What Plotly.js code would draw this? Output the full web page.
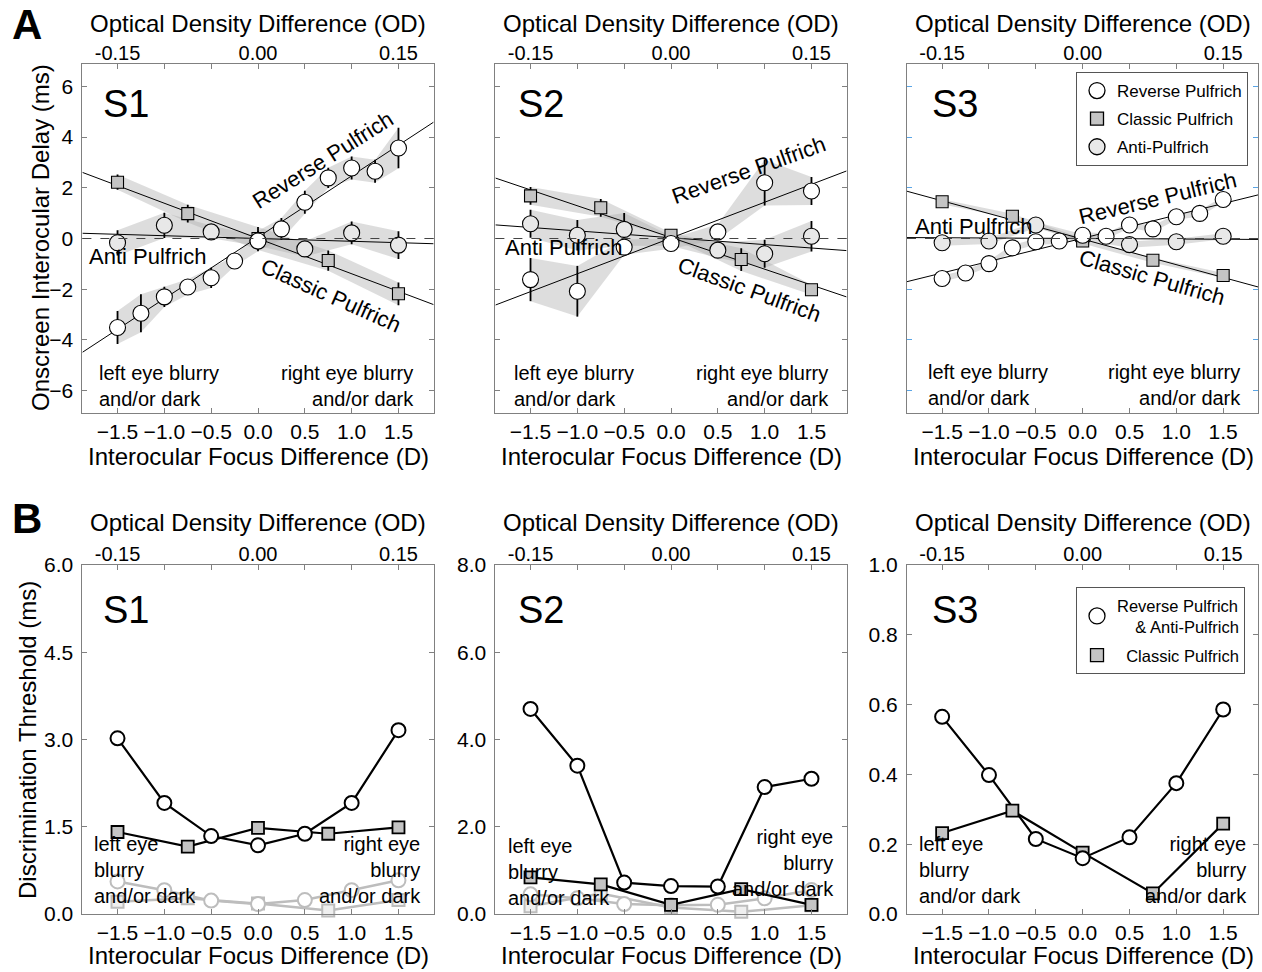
<!DOCTYPE html>
<html><head><meta charset="utf-8">
<script src="https://cdn.plot.ly/plotly-3.0.1.min.js"></script>
<style>html,body{margin:0;padding:0;background:#fff}#plot{width:1262px;height:972px}</style>
</head><body><div id="plot"></div>
<script>
// ---------------- DATA ----------------
// Tick labels
const focusTicks = [-1.5, -1, -0.5, 0, 0.5, 1, 1.5];
const focusLabels = ['\u22121.5', '\u22121.0', '\u22120.5', '0.0', '0.5', '1.0', '1.5'];
const odTicks = [-0.15, 0, 0.15];
const odLabels = ['-0.15', '0.00', '0.15'];
const delayTicks = [-6, -4, -2, 0, 2, 4, 6];
const delayLabels = ['\u22126', '\u22124', '\u22122', '0', '2', '4', '6'];
const thrTicksS1 = [0, 1.5, 3, 4.5, 6];
const thrLabelsS1 = ['0.0', '1.5', '3.0', '4.5', '6.0'];
const thrTicksS2 = [0, 2, 4, 6, 8];
const thrLabelsS2 = ['0.0', '2.0', '4.0', '6.0', '8.0'];
const thrTicksS3 = [0, 0.2, 0.4, 0.6, 0.8, 1.0];
const thrLabelsS3 = ['0.0', '0.2', '0.4', '0.6', '0.8', '1.0'];

// Panel A (onscreen interocular delay, ms)
const xQuarter = [-1.5, -1.25, -1, -0.75, -0.5, -0.25, 0, 0.25, 0.5, 0.75, 1, 1.25, 1.5];
const xHalf = [-1.5, -1, -0.5, 0, 0.5, 1, 1.5];
const xClassic = [-1.5, -0.75, 0, 0.75, 1.5];

const aS1RevY = [-3.51, -2.95, -2.30, -1.91, -1.55, -0.89, -0.10, 0.38, 1.43, 2.39, 2.78, 2.65, 3.57];
const aS1RevErr = [0.65, 0.75, 0.4, 0.3, 0.4, 0.2, 0.4, 0.43, 0.45, 0.4, 0.45, 0.45, 0.8];
const aS1ClaY = [2.22, 0.98, 0.0, -0.87, -2.18];
const aS1ClaErr = [0.3, 0.35, 0.45, 0.4, 0.45];
const aS1AntY = [-0.17, 0.52, 0.26, -0.1, -0.41, 0.22, -0.26];
const aS1AntErr = [0.5, 0.5, 0.25, 0.2, 0.3, 0.45, 0.55];
const aS1FitSlope = [2.42, -1.39, -0.11];      // reverse, classic, anti
const aS1FitIntercept = [0.05, 0.0, 0.0];

const aS2RevY = [-1.62, -2.08, -0.34, -0.2, 0.26, 2.2, 1.87];
const aS2RevErr = [0.85, 1.0, 0.3, 0.2, 0.3, 0.9, 0.55];
const aS2ClaY = [1.68, 1.21, 0.13, -0.83, -2.02];
const aS2ClaErr = [0.35, 0.35, 0.1, 0.45, 0.2];
const aS2AntY = [0.58, 0.13, 0.36, -0.1, -0.46, -0.6, 0.09];
const aS2AntErr = [0.55, 0.6, 0.65, 0.2, 0.3, 0.55, 0.6];
const aS2FitSlope = [1.41, -1.25, -0.27];
const aS2FitIntercept = [0.02, 0.04, 0.03];

const aS3RevY = [-1.58, -1.36, -0.99, -0.37, -0.13, -0.1, 0.13, 0.09, 0.53, 0.38, 0.86, 0.99, 1.54];
const aS3RevErr = [0.12, 0.12, 0.12, 0.12, 0.12, 0.12, 0.12, 0.12, 0.12, 0.12, 0.12, 0.12, 0.12];
const aS3ClaY = [1.45, 0.88, -0.1, -0.86, -1.46];
const aS3ClaErr = [0.1, 0.1, 0.1, 0.1, 0.1];
const aS3AntY = [-0.17, -0.1, 0.53, 0.05, -0.24, -0.13, 0.09];
const aS3AntErr = [0.12, 0.12, 0.12, 0.12, 0.12, 0.12, 0.12];
const aS3FitSlope = [0.913, -1.007, -0.02];
const aS3FitIntercept = [0.01, -0.025, 0.0];

// Panel B (discrimination threshold, ms)
const bS1CircY = [3.02, 1.91, 1.34, 1.18, 1.38, 1.91, 3.16];
const bS1SqY = [1.41, 1.16, 1.48, 1.38, 1.49];
const bS1CircGrayY = [0.56, 0.41, 0.23, 0.17, 0.24, 0.41, 0.58];
const bS1SqGrayY = [0.21, 0.27, 0.18, 0.06, 0.24];

const bS2CircY = [4.70, 3.40, 0.72, 0.64, 0.63, 2.91, 3.10];
const bS2SqY = [0.84, 0.68, 0.21, 0.57, 0.21];
const bS2CircGrayY = [0.45, 0.36, 0.23, 0.2, 0.21, 0.36, 0.55];
const bS2SqGrayY = [0.18, 0.47, 0.15, 0.05, 0.2];

const bS3CircY = [0.565, 0.398, 0.215, 0.16, 0.22, 0.375, 0.586];
const bS3SqY = [0.232, 0.296, 0.176, 0.059, 0.259];

// ---------------- LAYOUT HELPERS ----------------
const W = 1262, H = 972;
const px = x => x / W;
const py = y => 1 - y / H;
const FONT = 'Liberation Sans, Arial, Helvetica, sans-serif';
const AXC = '#808080';
const XR = [-1.875, 1.875];
const colX = [[82.4, 433.6], [495.4, 846.6], [907, 1258.3]];
const rowY = [[64, 413], [565, 914]];
const xid = k => k === 1 ? 'x' : 'x' + k;
const yid = k => k === 1 ? 'y' : 'y' + k;
const xname = k => k === 1 ? 'xaxis' : 'xaxis' + k;
const yname = k => k === 1 ? 'yaxis' : 'yaxis' + k;

const yCfg = [
  {range: [-6.88, 6.88], tv: delayTicks, tt: delayLabels, lab: true, tc: AXC},
  {range: [-6.88, 6.88], tv: delayTicks, tt: delayLabels, lab: false, tc: AXC},
  {range: [-6.88, 6.88], tv: delayTicks, tt: delayLabels, lab: false, tc: '#5aa5e6'},
  {range: [0, 6], tv: thrTicksS1, tt: thrLabelsS1, lab: true, tc: AXC},
  {range: [0, 8], tv: thrTicksS2, tt: thrLabelsS2, lab: true, tc: AXC},
  {range: [0, 1], tv: thrTicksS3, tt: thrLabelsS3, lab: true, tc: AXC}
];

const layout = {
  width: W, height: H,
  margin: {l: 0, r: 0, t: 0, b: 0},
  paper_bgcolor: '#fff', plot_bgcolor: 'rgba(0,0,0,0)',
  font: {family: FONT, color: '#000'},
  showlegend: true,
  shapes: [], annotations: []
};

const traces = [];
for (let r = 0; r < 2; r++) {
  for (let c = 0; c < 3; c++) {
    const k = r * 3 + c + 1;
    const xd = [px(colX[c][0]), px(colX[c][1])];
    const yd = [py(rowY[r][1]), py(rowY[r][0])];
    const yc = yCfg[k - 1];
    // bottom focus axis; its mirrored ticks on top coincide with the 0.05 OD steps
    layout[xname(k)] = {
      domain: xd, anchor: yid(k), range: XR, tickmode: 'array',
      tickvals: focusTicks, ticktext: focusLabels, ticks: 'inside', ticklen: 5,
      tickcolor: AXC, showline: true, linecolor: AXC, linewidth: 1, mirror: 'ticks',
      showgrid: false, zeroline: false, tickfont: {size: 21, color: '#000'},
      ticklabelstandoff: 0
    };
    // top optical-density axis (labels only)
    layout[xname(k + 6)] = {
      overlaying: xid(k), anchor: 'free', position: py(rowY[r][0] + 1), side: 'top',
      range: [XR[0] / 10, XR[1] / 10],
      tickmode: 'array', tickvals: odTicks, ticktext: odLabels, ticks: '',
      showline: false, showgrid: false, zeroline: false,
      tickfont: {size: 20, color: '#000'}, showticklabels: true, ticklabelstandoff: 1
    };
    layout[yname(k)] = {
      domain: yd, anchor: xid(k), range: yc.range, tickmode: 'array',
      tickvals: yc.tv, ticktext: yc.tt, showticklabels: yc.lab,
      ticks: 'inside', ticklen: 5, tickcolor: yc.tc, showline: true,
      linecolor: AXC, linewidth: 1, mirror: 'ticks', showgrid: false,
      zeroline: false, tickfont: {size: 21, color: '#000'}, ticklabelstandoff: 4
    };
    // empty trace so that the top (optical density) axis is drawn
    traces.push({x: [null], y: [null], xaxis: xid(k + 6), yaxis: yid(k), mode: 'markers',
      showlegend: false, hoverinfo: 'skip'});
  }
}

// ---------------- TRACES ----------------
const BAND = 'rgba(175,175,175,0.42)';
function band(x, y, e, k) {
  const xs = x.concat(x.slice().reverse());
  const up = y.map((v, i) => v + e[i]);
  const lo = y.map((v, i) => v - e[i]).reverse();
  traces.push({x: xs, y: up.concat(lo), xaxis: xid(k), yaxis: yid(k), mode: 'lines',
    fill: 'toself', fillcolor: BAND, line: {width: 0}, hoverinfo: 'skip', showlegend: false});
}
function fitLine(slope, b, k) {
  traces.push({x: XR, y: XR.map(v => slope * v + b), xaxis: xid(k), yaxis: yid(k),
    mode: 'lines', line: {color: '#000', width: 1}, hoverinfo: 'skip', showlegend: false});
}
function pts(x, y, e, k, symbol, fill, size) {
  traces.push({x: x, y: y, xaxis: xid(k), yaxis: yid(k), mode: 'markers',
    error_y: {type: 'data', array: e, visible: true, color: '#000', thickness: 1.8, width: 0},
    marker: {symbol: symbol, size: size, color: fill, line: {color: '#000', width: 1.1}},
    cliponaxis: false, showlegend: false});
}
const FILL_REV = '#ffffff', FILL_CLA = '#c4c4c4', FILL_ANT = '#e8e8e8';
const panelsA = [
  [aS1RevY, aS1RevErr, aS1ClaY, aS1ClaErr, aS1AntY, aS1AntErr, aS1FitSlope, aS1FitIntercept],
  [aS2RevY, aS2RevErr, aS2ClaY, aS2ClaErr, aS2AntY, aS2AntErr, aS2FitSlope, aS2FitIntercept],
  [aS3RevY, aS3RevErr, aS3ClaY, aS3ClaErr, aS3AntY, aS3AntErr, aS3FitSlope, aS3FitIntercept]
];
const revX = [xQuarter, xHalf, xQuarter];
panelsA.forEach((p, i) => {
  const k = i + 1;
  band(revX[i], p[0], p[1], k);
  band(xClassic, p[2], p[3], k);
  band(xHalf, p[4], p[5], k);
  layout.shapes.push({type: 'line', xref: xid(k), yref: yid(k), x0: XR[0], x1: XR[1], y0: 0, y1: 0,
    line: {color: '#444', width: 1, dash: 'dash'}, layer: 'above'});
  fitLine(p[6][0], p[7][0], k);
  fitLine(p[6][1], p[7][1], k);
  fitLine(p[6][2], p[7][2], k);
  pts(xHalf, p[4], p[5], k, 'circle', FILL_ANT, 16);
  pts(xClassic, p[2], p[3], k, 'square', FILL_CLA, 12);
  pts(revX[i], p[0], p[1], k, 'circle', FILL_REV, 16);
});

// Panel B
const GRAY = '#bdbdbd';
function lineTr(x, y, k, color, w) {
  traces.push({x: x, y: y, xaxis: xid(k), yaxis: yid(k), mode: 'lines',
    line: {color: color, width: w}, cliponaxis: false, hoverinfo: 'skip', showlegend: false});
}
function mk(x, y, k, symbol, fill, edge, size, lw) {
  traces.push({x: x, y: y, xaxis: xid(k), yaxis: yid(k), mode: 'markers',
    marker: {symbol: symbol, size: size, color: fill, line: {color: edge, width: lw}},
    cliponaxis: false, showlegend: false});
}
const panelsB = [
  [bS1CircY, bS1SqY, bS1CircGrayY, bS1SqGrayY],
  [bS2CircY, bS2SqY, bS2CircGrayY, bS2SqGrayY],
  [bS3CircY, bS3SqY, null, null]
];
panelsB.forEach((p, i) => {
  const k = i + 4;
  if (p[2]) {
    lineTr(xHalf, p[2], k, GRAY, 2.5);
    lineTr(xClassic, p[3], k, GRAY, 2.5);
    mk(xClassic, p[3], k, 'square', '#efefef', GRAY, 12, 2);
    mk(xHalf, p[2], k, 'circle', '#ffffff', GRAY, 14, 2);
  }
  lineTr(xClassic, p[1], k, '#000', 2.2);
  lineTr(xHalf, p[0], k, '#000', 2.2);
  mk(xClassic, p[1], k, 'square', FILL_CLA, '#000', 12, 1.8);
  mk(xHalf, p[0], k, 'circle', '#ffffff', '#000', 14, 2);
});

// Legend entries (legend-only samples)
function legItem(name, symbol, fill, legend, k, size) {
  traces.push({x: [null], y: [null], xaxis: xid(k), yaxis: yid(k), mode: 'markers', name: name,
    legend: legend, legendgroup: name + legend,
    marker: {symbol: symbol, size: size, color: fill, line: {color: '#000', width: 1.3}}});
}
legItem('Reverse Pulfrich', 'circle', FILL_REV, 'legend', 3, 16);
legItem('Classic Pulfrich', 'square', FILL_CLA, 'legend', 3, 13);
legItem('Anti-Pulfrich', 'circle', FILL_ANT, 'legend', 3, 16);
legItem('Reverse Pulfrich<br>\u00a0\u00a0\u00a0\u00a0& Anti-Pulfrich', 'circle', '#ffffff', 'legend2', 6, 16);
legItem('\u00a0\u00a0Classic Pulfrich', 'square', FILL_CLA, 'legend2', 6, 13);

layout.legend = {x: px(1248), y: py(72), xanchor: 'right', yanchor: 'top', bgcolor: '#fff',
  bordercolor: '#555', borderwidth: 1, font: {size: 17, family: FONT}, tracegroupgap: 3,
  traceorder: 'grouped'};
layout.legend2 = {x: px(1245), y: py(587), xanchor: 'right', yanchor: 'top', bgcolor: '#fff',
  bordercolor: '#555', borderwidth: 1, font: {size: 16.5, family: FONT}, tracegroupgap: 4,
  traceorder: 'grouped'};

// ---------------- TEXT ----------------
function ann(text, x, y, o) {
  layout.annotations.push(Object.assign({text: text, x: px(x), y: py(y), xref: 'paper', yref: 'paper',
    showarrow: false, xanchor: 'center', yanchor: 'middle', font: {size: 20, family: FONT, color: '#000'}}, o || {}));
}
// panel letters
ann('<b>A</b>', 27, 24, {font: {size: 42, family: FONT}});
ann('<b>B</b>', 27, 518, {font: {size: 42, family: FONT}});
// axis titles
const centers = [258, 671, 1083];
centers.forEach(cx => {
  ann('Optical Density Difference (OD)', cx, 23, {font: {size: 24, family: FONT}});
  ann('Interocular Focus Difference (D)', cx, 456, {font: {size: 24, family: FONT}});
  ann('Optical Density Difference (OD)', cx, 522, {font: {size: 24, family: FONT}});
  ann('Interocular Focus Difference (D)', cx, 955, {font: {size: 24, family: FONT}});
});
ann('Onscreen Interocular Delay (ms)', 40, 238, {textangle: -90, font: {size: 24, family: FONT}});
ann('Discrimination Threshold (ms)', 27, 740, {textangle: -90, font: {size: 24, family: FONT}});
// subject labels
const sX = [101, 516, 930];
['S1', 'S2', 'S3'].forEach((s, i) => {
  ann(s, sX[i], 104, {xanchor: 'left', font: {size: 38, family: FONT}});
  ann(s, sX[i], 610, {xanchor: 'left', font: {size: 38, family: FONT}});
});
// curve labels
const CL = {size: 22, family: FONT};
ann('Reverse Pulfrich', 322, 160, {textangle: -32.4, font: CL});
ann('Classic Pulfrich', 331, 295, {textangle: 24, font: CL});
ann('Anti Pulfrich', 147, 256, {font: CL});
ann('Reverse Pulfrich', 748, 170, {textangle: -19.6, font: CL});
ann('Classic Pulfrich', 749, 290, {textangle: 20, font: CL});
ann('Anti Pulfrich', 563, 248, {font: CL});
ann('Reverse Pulfrich', 1157, 198, {textangle: -13.6, font: CL});
ann('Classic Pulfrich', 1152, 277, {textangle: 16, font: CL});
ann('Anti Pulfrich', 973, 227, {font: CL});
// eye notes
const EN = {size: 20, family: FONT};
ann('left eye blurry<br>and/or dark', 97, 386, {xanchor: 'left', align: 'left', font: EN});
ann('right eye blurry<br>and/or dark', 416, 386, {xanchor: 'right', align: 'right', font: EN});
ann('left eye blurry<br>and/or dark', 512, 386, {xanchor: 'left', align: 'left', font: EN});
ann('right eye blurry<br>and/or dark', 831, 386, {xanchor: 'right', align: 'right', font: EN});
ann('left eye blurry<br>and/or dark', 926, 385, {xanchor: 'left', align: 'left', font: EN});
ann('right eye blurry<br>and/or dark', 1243, 385, {xanchor: 'right', align: 'right', font: EN});
ann('left eye<br>blurry<br>and/or dark', 92, 870, {xanchor: 'left', align: 'left', font: EN});
ann('right eye<br>blurry<br>and/or dark', 423, 870, {xanchor: 'right', align: 'right', font: EN});
ann('left eye<br>blurry<br>and/or dark', 506, 872, {xanchor: 'left', align: 'left', font: EN});
ann('right eye<br>blurry<br>and/or dark', 836, 863, {xanchor: 'right', align: 'right', font: EN});
ann('left eye<br>blurry<br>and/or dark', 917, 870, {xanchor: 'left', align: 'left', font: EN});
ann('right eye<br>blurry<br>and/or dark', 1249, 870, {xanchor: 'right', align: 'right', font: EN});

Plotly.newPlot('plot', traces, layout, {staticPlot: true, displayModeBar: false});
</script></body></html>
